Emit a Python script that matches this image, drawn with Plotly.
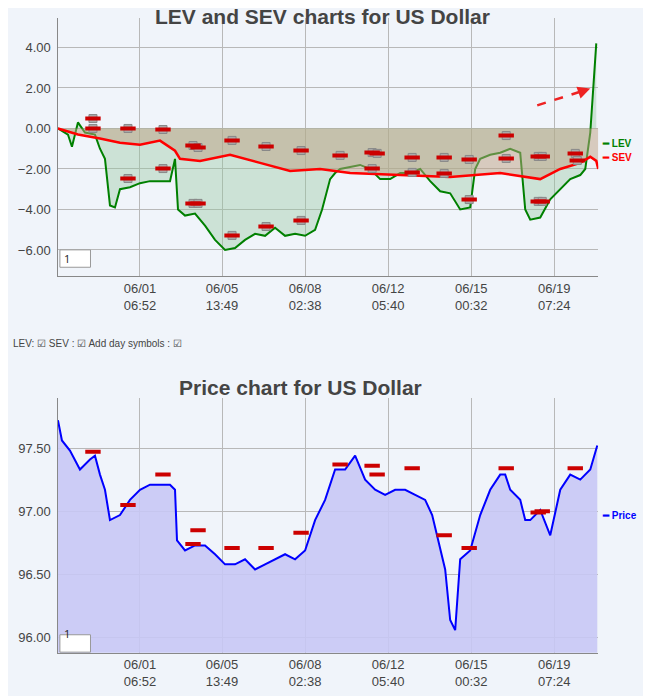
import plotly.graph_objects as go

# x positions are in "chart bar" units (0 .. 540)
tick_pos = [82, 164, 247, 330, 413, 496]
tick_text = ["06/01<br>06:52", "06/05<br>13:49", "06/08<br>02:38",
             "06/12<br>05:40", "06/15<br>00:32", "06/19<br>07:24"]

lev_x = [0, 10, 14, 20, 27, 37, 42, 47, 52, 57, 62, 72, 82, 92, 102, 112, 117, 120, 127, 137, 147,
         157, 167, 177, 187, 197, 207, 217, 227, 237, 247, 257, 264, 272, 277, 282, 292, 302, 312,
         322, 332, 342, 352, 362, 372, 382, 392, 402, 412, 417, 422, 432, 442, 452, 462, 467, 472,
         482, 492, 502, 512, 522, 527, 532, 535, 538]
lev = [0.0, -0.3, -0.9, 0.3, -0.2, -0.3, -1.0, -1.5, -3.8, -3.9, -3.0, -2.9, -2.7, -2.6, -2.6,
       -2.6, -1.5, -4.0, -4.3, -4.2, -4.8, -5.5, -6.0, -5.9, -5.5, -5.2, -5.3, -4.9, -5.3, -5.2,
       -5.3, -5.0, -4.0, -2.5, -2.2, -2.0, -1.9, -1.8, -2.0, -2.5, -2.5, -2.2, -2.2, -2.0, -2.6,
       -3.1, -3.2, -4.0, -3.9, -2.0, -1.5, -1.3, -1.2, -1.0, -1.2, -4.0, -4.5, -4.4, -3.5, -3.0,
       -2.5, -2.3, -2.0, -0.2, 2.0, 4.2]

sev_x = [0, 20, 42, 62, 82, 102, 117, 122, 142, 172, 202, 232, 262, 292, 342, 392, 442, 482, 502, 522, 532, 538, 540]
sev = [0.0, -0.3, -0.5, -0.7, -0.8, -0.6, -1.1, -1.5, -1.6, -1.3, -1.7, -2.1, -2.0, -2.2, -2.3,
       -2.4, -2.2, -2.5, -2.0, -1.7, -1.4, -1.6, -2.0]

price_x = [0, 4, 12, 22, 32, 37, 42, 47, 52, 62, 72, 82, 92, 102, 112, 117, 119, 127, 137, 147,
           157, 167, 177, 187, 197, 207, 217, 227, 237, 247, 257, 267, 277, 287, 297, 307, 317, 327,
           337, 347, 357, 367, 374, 382, 387, 392, 397, 402, 412, 422, 432, 442, 447, 452, 462, 467,
           472, 482, 492, 502, 512, 522, 532, 539]
price = [97.72, 97.56, 97.48, 97.33, 97.41, 97.44, 97.29, 97.17, 96.93, 96.97, 97.09, 97.17,
         97.21, 97.21, 97.21, 97.17, 96.77, 96.69, 96.73, 96.73, 96.66, 96.58, 96.58, 96.62, 96.54,
         96.58, 96.62, 96.66, 96.62, 96.69, 96.93, 97.09, 97.33, 97.33, 97.44, 97.25, 97.17, 97.13,
         97.17, 97.17, 97.13, 97.09, 96.97, 96.69, 96.54, 96.14, 96.06, 96.62, 96.69, 96.97, 97.17,
         97.29, 97.29, 97.17, 97.09, 96.93, 96.93, 97.01, 96.81, 97.17, 97.29, 97.25, 97.33, 97.52]

day_x = [35, 35, 70, 70, 105, 105, 135, 140, 135, 140, 174, 174, 208, 208, 243, 243, 282,
         314, 319, 314, 354, 354, 386, 386, 411, 411, 448, 448, 480, 484, 480, 484, 517, 519]
day_lev = [0.49, 0.0, 0.0, -2.47, -0.05, -1.98, -0.84, -0.94, -3.7, -3.7, -0.59, -5.28, -0.89,
           -4.84, -1.09, -4.54, -1.33, -1.19, -1.23, -1.98, -1.43, -2.17, -1.43, -2.22, -1.53,
           -3.51, -0.35, -1.48, -1.38, -1.38, -3.6, -3.6, -1.23, -1.58]
dayp_x = [35, 70, 105, 135, 140, 174, 208, 243, 282, 314, 319, 354, 386, 411, 448, 480, 484, 517]
day_price = [97.47, 97.05, 97.29, 96.74, 96.85, 96.71, 96.71, 96.83, 97.37, 97.36, 97.29, 97.34,
             96.81, 96.71, 97.34, 96.99, 97.00, 97.34]

# page body has an 8px margin, compensate in paper coords
DX, DY = 8 / 651, 8 / 696


def px(x):
    return x - DX


def py(y):
    return y + DY


fig = go.Figure()
XD = [px(0.089), px(0.919)]

fig.add_trace(go.Scatter(x=lev_x, y=lev, mode="lines", fill="tozeroy",
                         fillcolor="rgba(150,200,160,0.4)", line=dict(color="green", width=2),
                         xaxis="x", yaxis="y"))
fig.add_trace(go.Scatter(x=sev_x, y=sev, mode="lines", fill="tozeroy",
                         fillcolor="rgba(190,160,130,0.5)", line=dict(color="red", width=2.5),
                         xaxis="x", yaxis="y"))
fig.add_trace(go.Scatter(x=day_x, y=day_lev, mode="markers", xaxis="x", yaxis="y",
                         marker=dict(symbol="square", size=8, color="#aaaaaa",
                                     line=dict(color="#888", width=1))))
fig.add_trace(go.Scatter(x=day_x, y=day_lev, mode="markers", xaxis="x", yaxis="y",
                         marker=dict(symbol="line-ew", size=11, line=dict(color="#cc0000", width=4))))

fig.add_trace(go.Scatter(x=price_x, y=price, mode="lines", fill="tozeroy",
                         fillcolor="rgba(200,200,245,0.9)", line=dict(color="blue", width=2),
                         xaxis="x2", yaxis="y2"))
fig.add_trace(go.Scatter(x=dayp_x, y=day_price, mode="markers", xaxis="x2", yaxis="y2",
                         marker=dict(symbol="line-ew", size=11, line=dict(color="#cc0000", width=4))))

axis_common = dict(showgrid=True, gridcolor="#b8b8b8", showline=True, linecolor="#888",
                   tickfont=dict(size=13, color="#444", family="Arial"), zeroline=False, ticks="")
fig.update_layout(
    width=651, height=696, showlegend=False,
    paper_bgcolor="#f0f4fa", plot_bgcolor="#f0f4fa",
    margin=dict(l=0, r=0, t=0, b=0),
    xaxis=dict(domain=XD, anchor="y", range=[0, 540], tickvals=tick_pos, ticktext=tick_text, **axis_common),
    yaxis=dict(domain=[py(0.603), py(0.974)], anchor="x", range=[-7.3, 5.45], dtick=2, tickformat=".2f",
               **axis_common),
    xaxis2=dict(domain=XD, anchor="y2", range=[0, 540], tickvals=tick_pos, ticktext=tick_text, **axis_common),
    yaxis2=dict(domain=[py(0.062), py(0.428)], anchor="x2", range=[95.88, 97.895], dtick=0.5,
                tickformat=".2f", **axis_common),
)
fig.update_yaxes(ticksuffix=" ")

title_font = dict(size=21, color="#444", family="Arial")
fig.add_annotation(text="<b>LEV and SEV charts for US Dollar</b>", xref="paper", yref="paper",
                   x=px(0.496), y=py(0.977), yanchor="middle", showarrow=False, font=title_font)
fig.add_annotation(text="<b>Price chart for US Dollar</b>", xref="paper", yref="paper",
                   x=px(0.461), y=py(0.443), yanchor="middle", showarrow=False, font=title_font)
fig.add_annotation(text="LEV: ☑ SEV : ☑ Add day symbols : ☑", xref="paper", yref="paper",
                   x=0.004, y=py(0.507), xanchor="left", showarrow=False,
                   font=dict(size=10, color="#444", family="Arial"))
for txt, col, yy in [("<b>━ LEV</b>", "green", 0.805), ("<b>━ SEV</b>", "red", 0.785),
                     ("<b>━ Price</b>", "blue", 0.249)]:
    fig.add_annotation(text=txt, xref="paper", yref="paper", x=px(0.922), y=py(yy), xanchor="left",
                       showarrow=False, font=dict(size=10, color=col, family="Arial"))
# red dashed arrow
fig.add_shape(type="line", x0=479, y0=1.14, x1=526, y1=1.88, xref="x", yref="y",
              line=dict(color="#ee2222", width=2.5, dash="dash"))
fig.add_annotation(x=532, y=1.98, ax=524, ay=1.84, xref="x", yref="y", axref="x", ayref="y",
                   showarrow=True, arrowhead=2, arrowwidth=2.5, arrowcolor="#ee2222", text="")
# small input boxes
for y0, y1 in [(0.616, 0.641), (0.063, 0.088)]:
    fig.add_shape(type="rect", xref="paper", yref="paper", x0=px(0.092), x1=px(0.139),
                  y0=py(y0), y1=py(y1), fillcolor="white", line=dict(color="#999", width=1))
    fig.add_annotation(text="1", xref="paper", yref="paper", x=px(0.095), y=py((y0 + y1) / 2),
                       xanchor="left", showarrow=False, font=dict(size=11, color="#222"))

fig.write_html("out.html")
